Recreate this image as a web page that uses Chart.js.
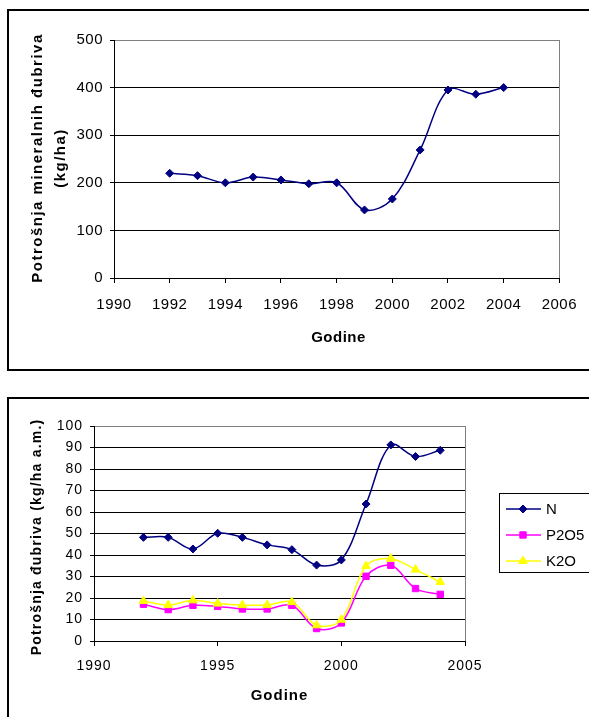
<!DOCTYPE html>
<html>
<head>
<meta charset="utf-8">
<script src="https://cdn.jsdelivr.net/npm/chart.js@4.4.0/dist/chart.umd.min.js"></script>
<style>
body { margin: 0; background: #fff; width: 589px; height: 717px; overflow: hidden; position: relative; }
.box { position: absolute; border: 2px solid #000; }
#box1 { left: 7px; top: 9px; width: 600px; height: 358px; }
#box2 { left: 7px; top: 397px; width: 600px; height: 400px; }
canvas { position: absolute; left: 0; }
#c1 { top: 0; }
#c2 { top: 380px; }
</style>
</head>
<body>
<div class="box" id="box1"></div>
<div class="box" id="box2"></div>
<canvas id="c1" width="589" height="369"></canvas>
<canvas id="c2" width="589" height="337"></canvas>
<script>
// godine (years)
var years = [1992, 1993, 1994, 1995, 1996, 1997, 1998, 1999, 2000, 2001, 2002, 2003, 2004];

// gornji grafikon - ukupna potrosnja mineralnih djubriva (kg/ha)
var totalUse = [220, 215, 200, 212, 206, 198, 200, 143, 166, 269, 395, 386, 400];

// donji grafikon - po hranivu (kg/ha a.m.)
var nUse = [48.2, 48.2, 42.8, 50.1, 48.2, 44.7, 42.5, 35.3, 37.7, 63.7, 91.2, 85.8, 88.7];
var p2o5Use = [17.1, 14.6, 16.6, 16.1, 14.9, 14.9, 16.6, 5.8, 8.4, 30.1, 35.2, 24.4, 21.7];
var k2oUse = [18.6, 16.7, 18.9, 17.4, 16.7, 16.7, 18.1, 7.3, 9.9, 34.9, 38.3, 33.2, 27.4];

var seriesNames = ['N', 'P2O5', 'K2O'];

// tick labels
var topXTicks = [1990, 1992, 1994, 1996, 1998, 2000, 2002, 2004, 2006];
var topYTicks = [0, 100, 200, 300, 400, 500];
var botXTicks = [1990, 1995, 2000, 2005];
var botYTicks = [0, 10, 20, 30, 40, 50, 60, 70, 80, 90, 100];

var FONT = "'Liberation Sans', Arial, sans-serif";

function toPoints(values) {
    return values.map(function (v, i) { return { x: years[i], y: v }; });
}

function fixedTicks(list) {
    return function (scale) {
        scale.ticks = list.map(function (v) { return { value: v }; });
    };
}

function drawLabel(ctx, text, x, y, font, spacing, rotated) {
    ctx.save();
    ctx.letterSpacing = spacing;
    ctx.font = font;
    ctx.fillStyle = '#000';
    ctx.textAlign = 'center';
    ctx.textBaseline = 'middle';
    ctx.translate(x, y);
    if (rotated) ctx.rotate(-Math.PI / 2);
    ctx.fillText(text, 0, 0);
    ctx.restore();
}

// excel-like extras: letter spacing on ticks, gray frame, axis titles, legend
var excelLook = {
    id: 'excelLook',
    beforeDraw: function (chart, args, opts) {
        chart.ctx.letterSpacing = opts.tickSpacing || '0px';
    },
    beforeDatasetsDraw: function (chart) {
        var ctx = chart.ctx, a = chart.chartArea;
        ctx.save();
        ctx.strokeStyle = '#808080';
        ctx.lineWidth = 1;
        ctx.beginPath();
        ctx.moveTo(Math.round(a.right) + 0.5, a.top);
        ctx.lineTo(Math.round(a.right) + 0.5, a.bottom);
        ctx.stroke();
        ctx.restore();
    },
    afterDraw: function (chart, args, opts) {
        var ctx = chart.ctx;
        ctx.letterSpacing = '0px';
        (opts.titles || []).forEach(function (t) {
            drawLabel(ctx, t.text, t.x, t.y, t.font, t.spacing, t.rotated);
        });
        if (opts.legend) {
            var lg = opts.legend;
            ctx.save();
            ctx.strokeStyle = '#000';
            ctx.lineWidth = 1;
            ctx.strokeRect(lg.x + 0.5, lg.y + 0.5, lg.w, lg.h);
            chart.data.datasets.forEach(function (ds, i) {
                var y = lg.rowY[i];
                ctx.strokeStyle = ds.borderColor;
                ctx.lineWidth = ds.borderWidth;
                ctx.beginPath();
                ctx.moveTo(lg.x + 7, y);
                ctx.lineTo(lg.x + 42, y);
                ctx.stroke();
                ctx.fillStyle = ds.pointBackgroundColor;
                ctx.strokeStyle = ds.pointBorderColor;
                ctx.lineWidth = 1;
                Chart.helpers.drawPoint(ctx, { pointStyle: ds.pointStyle, radius: ds.pointRadius, rotation: 0, borderWidth: 1 }, lg.x + 24, y);
                ctx.fillStyle = '#000';
                ctx.font = '15px ' + FONT;
                ctx.textAlign = 'left';
                ctx.textBaseline = 'middle';
                ctx.fillText(ds.label, lg.x + 47, y + 1);
            });
            ctx.restore();
        }
    }
};

function lineSet(label, values, color, style, radius, order) {
    return {
        label: label,
        data: toPoints(values),
        order: order,
        borderColor: color,
        backgroundColor: color,
        borderWidth: 1.5,
        pointStyle: style,
        pointRadius: radius,
        pointHoverRadius: radius,
        pointBackgroundColor: color,
        pointBorderColor: color,
        pointBorderWidth: 1,
        tension: 0.35,
        fill: false
    };
}

function axes(xTicks, yTicks, yWidth, xHeight, tickFont, yPad, xPad) {
    var yMax = yTicks[yTicks.length - 1];
    return {
        x: {
            type: 'linear',
            min: xTicks[0],
            max: xTicks[xTicks.length - 1],
            afterBuildTicks: fixedTicks(xTicks),
            afterFit: function (s) { s.height = xHeight; },
            border: { color: '#000', width: 1 },
            grid: { drawOnChartArea: false, tickLength: 5, tickColor: '#000', color: '#000' },
            ticks: { color: '#000', font: tickFont, padding: xPad, maxRotation: 0, callback: function (v) { return String(v); } }
        },
        y: {
            type: 'linear',
            min: yTicks[0],
            max: yMax,
            afterBuildTicks: fixedTicks(yTicks),
            afterFit: function (s) { s.width = yWidth; },
            border: { color: '#000', width: 1 },
            grid: {
                tickLength: 4,
                tickColor: '#000',
                lineWidth: 1,
                color: function (c) { return c.tick && c.tick.value === yMax ? '#808080' : '#000'; }
            },
            ticks: { color: '#000', font: tickFont, padding: yPad, callback: function (v) { return String(v); } }
        }
    };
}

// gornji grafikon
new Chart(document.getElementById('c1').getContext('2d'), {
    type: 'line',
    data: { datasets: [lineSet('N', totalUse, '#000080', 'rectRot', 4, 0)] },
    options: {
        responsive: false,
        animation: false,
        devicePixelRatio: 1,
        layout: { padding: { top: 40, right: 26, left: 0, bottom: 0 } },
        scales: axes(topXTicks, topYTicks, 114, 91, { family: FONT, size: 15 }, 7, 13),
        plugins: {
            legend: { display: false },
            tooltip: { enabled: false },
            excelLook: {
                tickSpacing: '0.5px',
                titles: [
                    { text: 'Potrošnja mineralnih đubriva', x: 37.5, y: 158, font: 'bold 15px ' + FONT, spacing: '1.5px', rotated: true },
                    { text: '(kg/ha)', x: 60.5, y: 158, font: 'bold 15px ' + FONT, spacing: '1.5px', rotated: true },
                    { text: 'Godine', x: 338.5, y: 338, font: 'bold 15px ' + FONT, spacing: '0.5px', rotated: false }
                ]
            }
        }
    },
    plugins: [excelLook]
});

// donji grafikon (kasnije serije iscrtane preko ranijih)
new Chart(document.getElementById('c2').getContext('2d'), {
    type: 'line',
    data: {
        datasets: [
            lineSet(seriesNames[0], nUse, '#000080', 'rectRot', 4, 2),
            lineSet(seriesNames[1], p2o5Use, '#FF00FF', 'rect', 4.5, 1),
            lineSet(seriesNames[2], k2oUse, '#FFFF00', 'triangle', 5, 0)
        ]
    },
    options: {
        responsive: false,
        animation: false,
        devicePixelRatio: 1,
        layout: { padding: { top: 46, right: 124, left: 0, bottom: 0 } },
        scales: axes(botXTicks, botYTicks, 94, 76, { family: FONT, size: 14 }, 7, 12),
        plugins: {
            legend: { display: false },
            tooltip: { enabled: false },
            excelLook: {
                tickSpacing: '1px',
                titles: [
                    { text: 'Potrošnja đubriva (kg/ha a.m.)', x: 37, y: 157, font: 'bold 14px ' + FONT, spacing: '1.2px', rotated: true },
                    { text: 'Godine', x: 279.5, y: 316, font: 'bold 15px ' + FONT, spacing: '1px', rotated: false }
                ],
                legend: { x: 499, y: 113, w: 120, h: 79, rowY: [129, 155, 181] }
            }
        }
    },
    plugins: [excelLook]
});
</script>
</body>
</html>
